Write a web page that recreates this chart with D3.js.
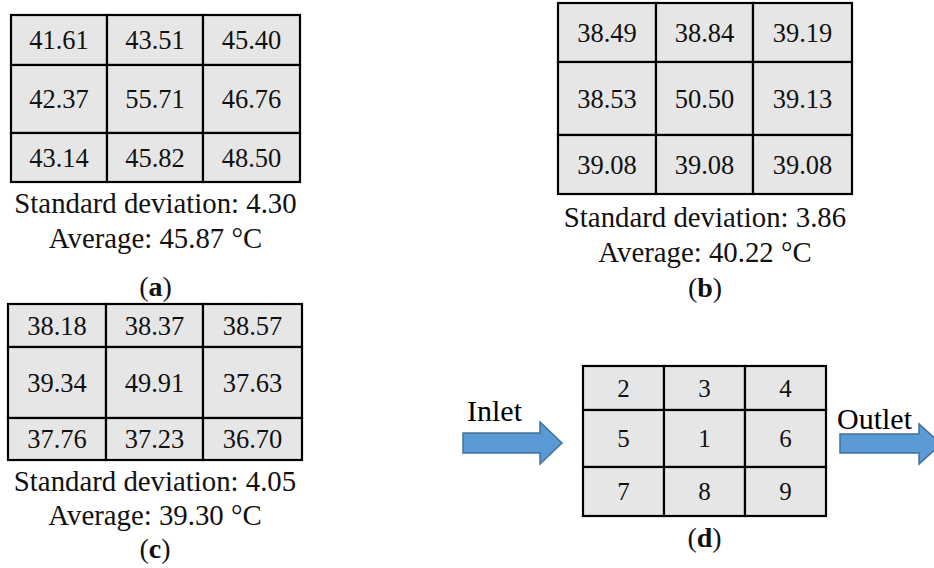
<!DOCTYPE html>
<html><head><meta charset="utf-8">
<script src="https://cdn.jsdelivr.net/npm/d3@7"></script>
<style>html,body{margin:0;padding:0;background:#fff;}svg{display:block;}</style>
</head><body>
<svg id="chart" width="934" height="568"></svg>
<script>
// ---- data ----
const valuesA = [41.61, 43.51, 45.40, 42.37, 55.71, 46.76, 43.14, 45.82, 48.50];
const valuesB = [38.49, 38.84, 39.19, 38.53, 50.50, 39.13, 39.08, 39.08, 39.08];
const valuesC = [38.18, 38.37, 38.57, 39.34, 49.91, 37.63, 37.76, 37.23, 36.70];
const positionLabels = [2, 3, 4, 5, 1, 6, 7, 8, 9];
const stdDevs = [4.30, 3.86, 4.05];
const averages = [45.87, 40.22, 39.30];
const panelLetters = ["a", "b", "c", "d"];
const flowLabels = ["Inlet", "Outlet"];

// ---- layout ----
const svg = d3.select("#chart");
const fmt = d3.format(".2f");
const FONT = "Liberation Serif, Times New Roman, serif";

const layouts = [
  {xs: [11, 107, 203, 300], ys: [15, 65, 133, 182], cap: [213, 248, 296]},
  {xs: [558, 656, 753, 852], ys: [3, 62, 135, 194], cap: [227, 262, 297]},
  {xs: [8, 106, 203, 302], ys: [304, 347, 418, 460], cap: [491, 525, 558]},
  {xs: [583, 664, 745, 826], ys: [366, 410, 467, 516], cap: [null, null, 547]}
];
const panels = [valuesA.map(fmt), valuesB.map(fmt), valuesC.map(fmt), positionLabels.map(String)];

panels.forEach((vals, p) => {
  const L = layouts[p];
  const xScale = d3.scaleOrdinal().domain([0, 1, 2, 3]).range(L.xs);
  const yScale = d3.scaleOrdinal().domain([0, 1, 2, 3]).range(L.ys);
  const g = svg.append("g");
  const cells = vals.map((v, i) => ({v, c: i % 3, r: Math.floor(i / 3)}));
  g.selectAll("rect.cell").data(cells).join("rect")
    .attr("x", d => xScale(d.c)).attr("y", d => yScale(d.r))
    .attr("width", d => xScale(d.c + 1) - xScale(d.c))
    .attr("height", d => yScale(d.r + 1) - yScale(d.r))
    .attr("fill", "#e6e6e6").attr("stroke", "#000").attr("stroke-width", 2.2);
  g.selectAll("text.val").data(cells).join("text")
    .attr("x", d => (xScale(d.c) + xScale(d.c + 1)) / 2)
    .attr("y", d => (yScale(d.r) + yScale(d.r + 1)) / 2)
    .attr("dy", "0.35em")
    .attr("text-anchor", "middle")
    .style("font-family", FONT).attr("font-size", p === 3 ? 25 : 26.5)
    .attr("fill", "#111")
    .text(d => d.v);
  const cx = (L.xs[0] + L.xs[3]) / 2;
  if (p < 3) {
    g.append("text").attr("x", cx).attr("y", L.cap[0]).attr("text-anchor", "middle")
      .style("font-family", FONT).attr("font-size", 28.8).attr("fill", "#111")
      .text("Standard deviation: " + fmt(stdDevs[p]));
    g.append("text").attr("x", cx).attr("y", L.cap[1]).attr("text-anchor", "middle")
      .style("font-family", FONT).attr("font-size", 28.8).attr("fill", "#111")
      .text("Average: " + fmt(averages[p]) + " °C");
  }
  const lab = g.append("text").attr("x", cx).attr("y", L.cap[2]).attr("text-anchor", "middle")
    .style("font-family", FONT).attr("font-size", 28).attr("fill", "#111");
  lab.append("tspan").text("(");
  lab.append("tspan").attr("font-weight", "bold").text(panelLetters[p]);
  lab.append("tspan").text(")");
});

// ---- arrows ----
const arrows = [
  {x0: 463, x1: 540, x2: 562, yb0: 433, yb1: 453, yh0: 422, yh1: 464, label: flowLabels[0], lx: 467, ly: 421},
  {x0: 840, x1: 919, x2: 941, yb0: 434, yb1: 453, yh0: 424, yh1: 464, label: flowLabels[1], lx: 837, ly: 429}
];
arrows.forEach(a => {
  const mid = (a.yh0 + a.yh1) / 2;
  const path = d3.path();
  path.moveTo(a.x0, a.yb0); path.lineTo(a.x1, a.yb0); path.lineTo(a.x1, a.yh0);
  path.lineTo(a.x2, mid); path.lineTo(a.x1, a.yh1); path.lineTo(a.x1, a.yb1);
  path.lineTo(a.x0, a.yb1); path.closePath();
  svg.append("path").attr("d", path.toString())
    .attr("fill", "#5b9bd5").attr("stroke", "#41719c").attr("stroke-width", 1.5);
  svg.append("text").attr("x", a.lx).attr("y", a.ly)
    .style("font-family", FONT).attr("font-size", 30).attr("fill", "#000")
    .text(a.label);
});
</script>
</body></html>
